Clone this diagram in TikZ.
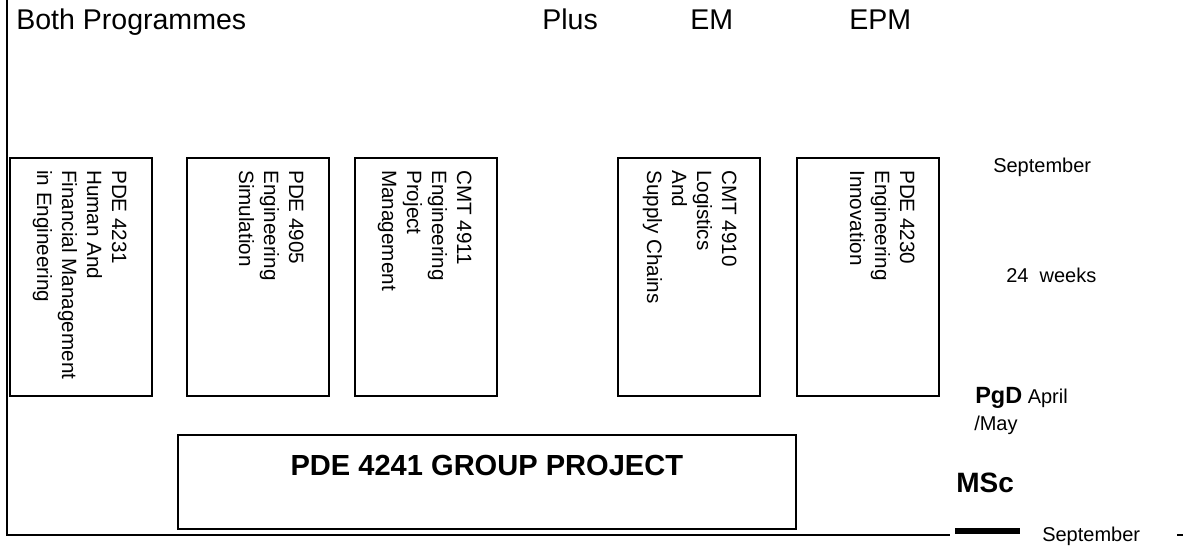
\documentclass[tikz,border=0pt]{standalone}
\usepackage{fontspec}
\setmainfont{Liberation Sans}
\usepackage{tikz}
\usetikzlibrary{positioning}
\tikzset{
  frame/.style={line width=1.4pt, draw=black},
  modbox/.style={draw, line width=1.3pt, anchor=north west, minimum width=106.5pt, minimum height=178.5pt, inner sep=0pt},
  modtxt/.style={rotate=-90, anchor=north west, align=left, inner sep=0pt, font=\fontsize{15.5}{18.75}\selectfont},
  head/.style={anchor=base west, inner sep=0pt, font=\fontsize{21.4}{25}\selectfont},
  side/.style={anchor=base west, inner sep=0pt, font=\fontsize{15}{18}\selectfont},
  projbox/.style={draw, line width=1.3pt, anchor=north west, minimum width=463.5pt, minimum height=70.5pt, inner sep=0pt},
  projtxt/.style={anchor=north, inner sep=0pt, font=\fontsize{21.8}{25}\selectfont\bfseries},
  bar/.style={line width=4.5pt},
}
\begin{document}
\begin{tikzpicture}[x=0.75pt, y=-0.75pt]
    \useasboundingbox (0,0) rectangle (1183,546);
    \draw[frame] (7,0) -- (7,535) -- (950,535);

    \node[head] (both) at (16,29) {Both Programmes};
    \node[head] (plus) at (542,29) {Plus};
    \node[head] (em) at (690,29) {EM};
    \node[head] (epm) at (849,29) {EPM};

    \node[modbox] (m4231) at (9,157) {};
    \node[modbox] (m4905) at (186,157) {};
    \node[modbox] (m4911) at (354,157) {};
    \node[modbox] (m4910) at (617,157) {};
    \node[modbox] (m4230) at (796,157) {};

    \node[modtxt] (t4231) at ([shift={(-26,13)}]m4231.north east) {PDE 4231\\Human And\\Financial Management\\in Engineering};
    \node[modtxt] (t4905) at ([shift={(-26,13)}]m4905.north east) {PDE 4905\\Engineering\\Simulation};
    \node[modtxt] (t4911) at ([shift={(-26,13)}]m4911.north east) {CMT 4911\\Engineering\\Project\\Management};
    \node[modtxt] (t4910) at ([shift={(-24,13)}]m4910.north east) {CMT 4910\\Logistics\\And\\Supply Chains};
    \node[modtxt] (t4230) at ([shift={(-25,13)}]m4230.north east) {PDE 4230\\Engineering\\Innovation};

    \node[side] (sept) at (993,172) {September};
    \node[side] (weeks) at (1006,282) {24\ \ weeks};
    \node[side] (pgd) at (975,403) {{\fontsize{17.6}{20}\selectfont\bfseries PgD} April};
    \node[side] (may) at (974,430) {/May};
    \node[side, font=\fontsize{21}{25}\selectfont\bfseries] (msc) at (956,492) {MSc};

    \node[projbox] (proj) at (177,434) {};
    \node[projtxt] (projlbl) at ([shift={(0,21)}]proj.north) {PDE 4241 GROUP PROJECT};

    \draw[bar] (955,531) -- (1020,531);
    \node[side] (septend) at (1042,541) {September};
    \draw[frame] (1177,535) -- (1183,535);
\end{tikzpicture}
\end{document}
